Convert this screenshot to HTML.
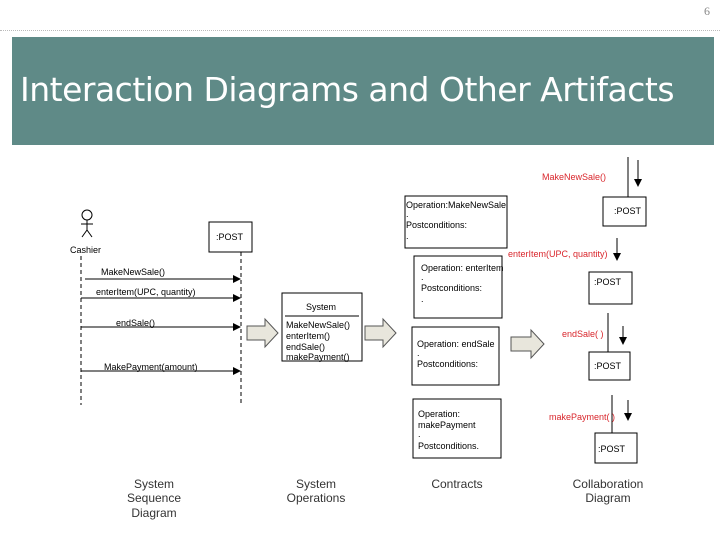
<!DOCTYPE html>
<html><head><meta charset="utf-8"><style>
body{margin:0;width:720px;height:540px;background:#fff;overflow:hidden;position:relative;font-family:"Liberation Sans",sans-serif}
.bar{position:absolute;left:12px;top:37px;width:702px;height:108px;background:#5f8a87}
.title{position:absolute;left:20px;top:70px;color:#fff;font-size:33px;font-family:"DejaVu Sans","Liberation Sans",sans-serif;letter-spacing:-0.5px}
.num{position:absolute;left:704px;top:4px;font-size:12px;color:#888;font-family:"Liberation Serif",serif}
.dash{position:absolute;left:0;top:30px;width:720px;border-top:1px dotted #bbb}
svg{position:absolute;left:0;top:0}
</style></head><body>
<div class="num">6</div>
<div class="dash"></div>
<div class="bar"></div>
<div class="title">Interaction Diagrams and Other Artifacts</div>
<svg width="720" height="540" font-family="Liberation Sans, sans-serif" font-size="9">
<defs><marker id="a" markerWidth="8" markerHeight="8" refX="7" refY="4" orient="auto"><path d="M0,0L8,4L0,8z" fill="#000"/></marker></defs>
<!-- actor -->
<circle cx="87" cy="215" r="5" fill="none" stroke="#000"/>
<line x1="87" y1="220" x2="87" y2="230" stroke="#000"/><line x1="81" y1="224" x2="93" y2="224" stroke="#000"/>
<line x1="87" y1="230" x2="82" y2="237" stroke="#000"/><line x1="87" y1="230" x2="92" y2="237" stroke="#000"/>
<text x="70" y="253">Cashier</text>
<line x1="81" y1="256" x2="81" y2="405" stroke="#000" stroke-dasharray="4,3"/>
<rect x="209" y="222" width="43" height="30" fill="#fff" stroke="#000"/><text x="216" y="240">:POST</text>
<line x1="241" y1="252" x2="241" y2="405" stroke="#000" stroke-dasharray="4,3"/>
<line x1="85" y1="279" x2="240" y2="279" stroke="#000" marker-end="url(#a)"/><text x="101" y="275">MakeNewSale()</text>
<line x1="81" y1="298" x2="240" y2="298" stroke="#000" marker-end="url(#a)"/><text x="96" y="295">enterItem(UPC, quantity)</text>
<line x1="81" y1="327" x2="240" y2="327" stroke="#000" marker-end="url(#a)"/><text x="116" y="326">endSale()</text>
<line x1="81" y1="371" x2="240" y2="371" stroke="#000" marker-end="url(#a)"/><text x="104" y="370">MakePayment(amount)</text>
<!-- big arrows -->
<g fill="#e8e6dc" stroke="#555">
<path d="M247,326h18v-7l13,14l-13,14v-7h-18z"/>
<path d="M365,326h18v-7l13,14l-13,14v-7h-18z"/>
<path d="M511,337h20v-7l13,14l-13,14v-7h-20z"/>
</g>
<rect x="282" y="293" width="80" height="68" fill="#fff" stroke="#000"/>
<line x1="285" y1="316" x2="359" y2="316" stroke="#000"/>
<text x="306" y="310">System</text>
<text x="286" y="328">MakeNewSale()</text><text x="286" y="339">enterItem()</text><text x="286" y="350">endSale()</text><text x="286" y="360">makePayment()</text>
<!-- contracts -->
<g fill="#fff" stroke="#000"><rect x="405" y="196" width="102" height="52"/><rect x="414" y="256" width="88" height="62"/><rect x="412" y="327" width="87" height="58"/><rect x="413" y="399" width="88" height="59"/></g>
<text x="406" y="208">Operation:MakeNewSale</text><text x="406" y="217">.</text><text x="406" y="228">Postconditions:</text><text x="406" y="239">.</text>
<text x="421" y="271">Operation: enterItem</text><text x="421" y="280">.</text><text x="421" y="291">Postconditions:</text><text x="421" y="302">.</text>
<text x="417" y="347">Operation: endSale</text><text x="417" y="356">.</text><text x="417" y="367">Postconditions:</text>
<text x="418" y="417">Operation:</text><text x="418" y="428">makePayment</text><text x="418" y="437">.</text><text x="418" y="449">Postconditions.</text>
<!-- collaboration -->
<g fill="#fff" stroke="#000"><rect x="603" y="197" width="43" height="29"/><rect x="589" y="272" width="43" height="32"/><rect x="589" y="352" width="41" height="28"/><rect x="595" y="433" width="42" height="30"/></g>
<text x="614" y="214">:POST</text><text x="594" y="285">:POST</text><text x="594" y="369">:POST</text><text x="598" y="452">:POST</text>
<g stroke="#000"><line x1="628" y1="157" x2="628" y2="197"/><line x1="608" y1="313" x2="608" y2="352"/><line x1="612" y1="395" x2="612" y2="433"/>
<line x1="638" y1="160" x2="638" y2="186" marker-end="url(#a)"/><line x1="617" y1="238" x2="617" y2="260" marker-end="url(#a)"/><line x1="623" y1="326" x2="623" y2="344" marker-end="url(#a)"/><line x1="628" y1="400" x2="628" y2="420" marker-end="url(#a)"/></g>
<g fill="#d9262c"><text x="542" y="180">MakeNewSale()</text><text x="508" y="257">enterItem(UPC, quantity)</text><text x="562" y="337">endSale( )</text><text x="549" y="420">makePayment( )</text></g>
<g font-size="12" fill="#333" text-anchor="middle">
<text x="154" y="488">System</text><text x="154" y="502">Sequence</text><text x="154" y="517">Diagram</text>
<text x="316" y="488">System</text><text x="316" y="502">Operations</text>
<text x="457" y="488">Contracts</text>
<text x="608" y="488">Collaboration</text><text x="608" y="502">Diagram</text>
</g>
</svg>
</body></html>
